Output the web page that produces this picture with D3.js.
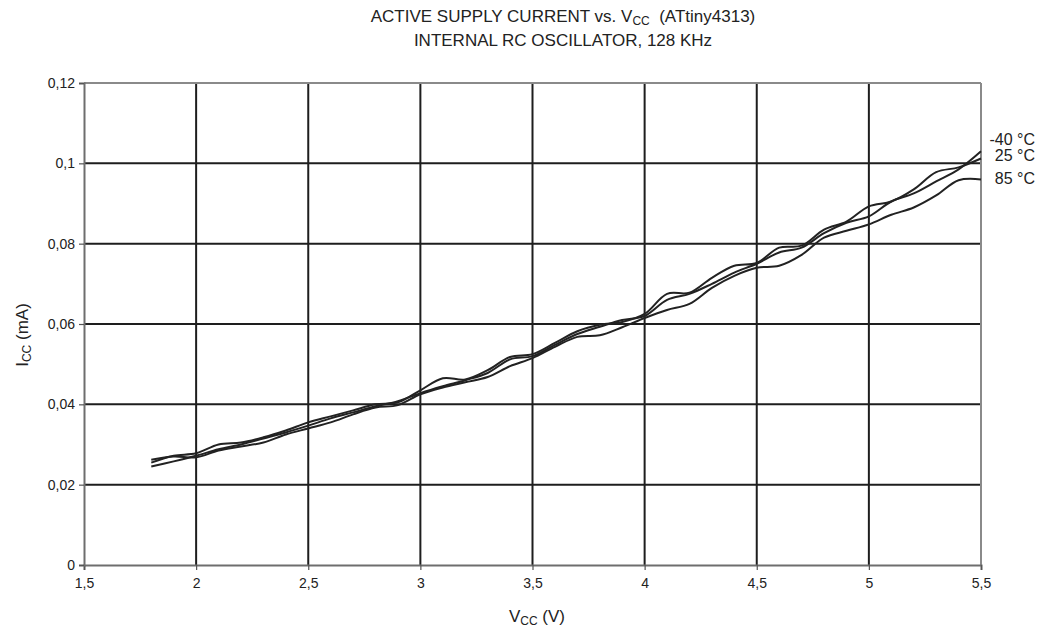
<!DOCTYPE html>
<html>
<head>
<meta charset="utf-8">
<script src="https://cdn.jsdelivr.net/npm/d3@7"></script>
<style>
  body { margin: 0; background: #fff; }
  text { font-family: "Liberation Sans", Arial, sans-serif; fill: #222; }
</style>
</head>
<body>
<div id="chart"></div>
<script>
// supply voltage (V)
var vcc = [1.8, 1.9, 2.0, 2.1, 2.2, 2.3, 2.4, 2.5, 2.6, 2.7, 2.8, 2.9, 3.0, 3.1, 3.2, 3.3, 3.4, 3.5, 3.6, 3.7,
           3.8, 3.9, 4.0, 4.1, 4.2, 4.3, 4.4, 4.5, 4.6, 4.7, 4.8, 4.9, 5.0, 5.1, 5.2, 5.3, 5.4, 5.5];

// Icc (mA) per temperature
var iccM40 = [0.0245, 0.0258, 0.0272, 0.0288, 0.0300, 0.0315, 0.0330, 0.0347, 0.0365, 0.0380, 0.0395, 0.0408, 0.0428,
              0.0445, 0.0460, 0.0478, 0.0512, 0.0520, 0.0548, 0.0575, 0.0593, 0.0610, 0.0620, 0.0660, 0.0675, 0.0700,
              0.0728, 0.0750, 0.0778, 0.0790, 0.0826, 0.0852, 0.0868, 0.0905, 0.0925, 0.0955, 0.0985, 0.1030];
var icc25 = [0.0255, 0.0272, 0.0278, 0.0300, 0.0305, 0.0318, 0.0335, 0.0355, 0.0370, 0.0385, 0.0400, 0.0405, 0.0435,
             0.0465, 0.0462, 0.0485, 0.0518, 0.0525, 0.0553, 0.0582, 0.0598, 0.0605, 0.0625, 0.0675, 0.0678, 0.0715,
             0.0745, 0.0752, 0.0790, 0.0795, 0.0835, 0.0855, 0.0893, 0.0905, 0.0935, 0.0978, 0.0990, 0.1012];
var icc85 = [0.0262, 0.0270, 0.0268, 0.0285, 0.0295, 0.0305, 0.0325, 0.0340, 0.0355, 0.0375, 0.0392, 0.0398, 0.0425,
             0.0442, 0.0455, 0.0468, 0.0495, 0.0515, 0.0543, 0.0568, 0.0572, 0.0592, 0.0615, 0.0635, 0.0650, 0.0690,
             0.0720, 0.0740, 0.0745, 0.0772, 0.0815, 0.0832, 0.0848, 0.0872, 0.0890, 0.0920, 0.0958, 0.0960];

var seriesNames = ["-40 °C", "25 °C", "85 °C"];
var xTicks = [1.5, 2, 2.5, 3, 3.5, 4, 4.5, 5, 5.5];
var yTicks = [0, 0.02, 0.04, 0.06, 0.08, 0.1, 0.12];

var W = 1048, H = 630;
var margin = {top: 83, right: 67, bottom: 65, left: 84};
var width = W - margin.left - margin.right,
    height = H - margin.top - margin.bottom;

var svg = d3.select("#chart").append("svg")
    .attr("width", W)
    .attr("height", H);

var g = svg.append("g")
    .attr("transform", "translate(" + margin.left + "," + margin.top + ")");

var x = d3.scaleLinear().domain([1.5, 5.5]).range([0, width]);
var y = d3.scaleLinear().domain([0, 0.12]).range([height, 0]);

var comma = function(d) { return String(d).replace(".", ","); };

// grid
g.selectAll(".hgrid")
    .data(yTicks.filter(function(d) { return d > 0 && d < 0.12; }))
    .enter().append("line")
    .attr("x1", 0).attr("x2", width)
    .attr("y1", function(d) { return y(d); })
    .attr("y2", function(d) { return y(d); })
    .attr("stroke", "#1e1e1e").attr("stroke-width", 2);

g.selectAll(".vgrid")
    .data(xTicks.filter(function(d) { return d > 1.5 && d < 5.5; }))
    .enter().append("line")
    .attr("x1", function(d) { return x(d); })
    .attr("x2", function(d) { return x(d); })
    .attr("y1", 0).attr("y2", height)
    .attr("stroke", "#1e1e1e").attr("stroke-width", 2);

// frame top / right
g.append("line").attr("x1", 0).attr("x2", width).attr("y1", 0).attr("y2", 0)
    .attr("stroke", "#8a8a8a").attr("stroke-width", 2);
g.append("line").attr("x1", width).attr("x2", width).attr("y1", 0).attr("y2", height)
    .attr("stroke", "#8a8a8a").attr("stroke-width", 2);

// axes
var xAxis = g.append("g")
    .attr("transform", "translate(0," + height + ")")
    .call(d3.axisBottom(x).tickValues(xTicks).tickFormat(comma).tickSize(5).tickPadding(8));
var yAxis = g.append("g")
    .call(d3.axisLeft(y).tickValues(yTicks).tickFormat(comma).tickSize(5).tickPadding(4));

[xAxis, yAxis].forEach(function(a) {
    a.select(".domain").attr("stroke", "#6e6e6e").attr("stroke-width", 2);
    a.selectAll(".tick line").attr("stroke", "#555").attr("stroke-width", 1.2);
    a.selectAll(".tick text").attr("font-size", "14px").attr("fill", "#222")
        .attr("font-family", "Liberation Sans, Arial, sans-serif");
});

// curves
var series = [iccM40, icc25, icc85];
var line = d3.line()
    .x(function(d, i) { return x(vcc[i]); })
    .y(function(d) { return y(d); })
    .curve(d3.curveCatmullRom.alpha(0.5));

g.selectAll(".curve")
    .data(series)
    .enter().append("path")
    .attr("d", line)
    .attr("fill", "none")
    .attr("stroke", "#222")
    .attr("stroke-width", 2);

// series labels
var labelY = [0.1058, 0.1018, 0.0962];
g.selectAll(".slabel")
    .data(seriesNames)
    .enter().append("text")
    .attr("x", width + 54)
    .attr("y", function(d, i) { return y(labelY[i]) + 5; })
    .attr("text-anchor", "end")
    .attr("font-size", "16px")
    .text(function(d) { return d; });

// titles
var titleX = 563;
var t1 = svg.append("text")
    .attr("x", titleX)
    .attr("y", 22)
    .attr("text-anchor", "middle")
    .attr("font-size", "17px");
t1.append("tspan").text("ACTIVE SUPPLY CURRENT vs. V");
t1.append("tspan").attr("font-size", "12px").attr("dy", 3).text("CC");
t1.append("tspan").attr("dy", -3).text("\u00a0 (ATtiny4313)");

svg.append("text")
    .attr("x", titleX)
    .attr("y", 46)
    .attr("text-anchor", "middle")
    .attr("font-size", "17px")
    .text("INTERNAL RC OSCILLATOR, 128 KHz");

var xl = svg.append("text")
    .attr("x", 537)
    .attr("y", 622)
    .attr("text-anchor", "middle")
    .attr("font-size", "17px");
xl.append("tspan").text("V");
xl.append("tspan").attr("font-size", "12px").attr("dy", 3).text("CC");
xl.append("tspan").attr("dy", -3).text(" (V)");

var yl = svg.append("text")
    .attr("transform", "translate(28," + 335 + ") rotate(-90)")
    .attr("text-anchor", "middle")
    .attr("font-size", "17px");
yl.append("tspan").text("I");
yl.append("tspan").attr("font-size", "12px").attr("dy", 3).text("CC");
yl.append("tspan").attr("dy", -3).text(" (mA)");
</script>
</body>
</html>
